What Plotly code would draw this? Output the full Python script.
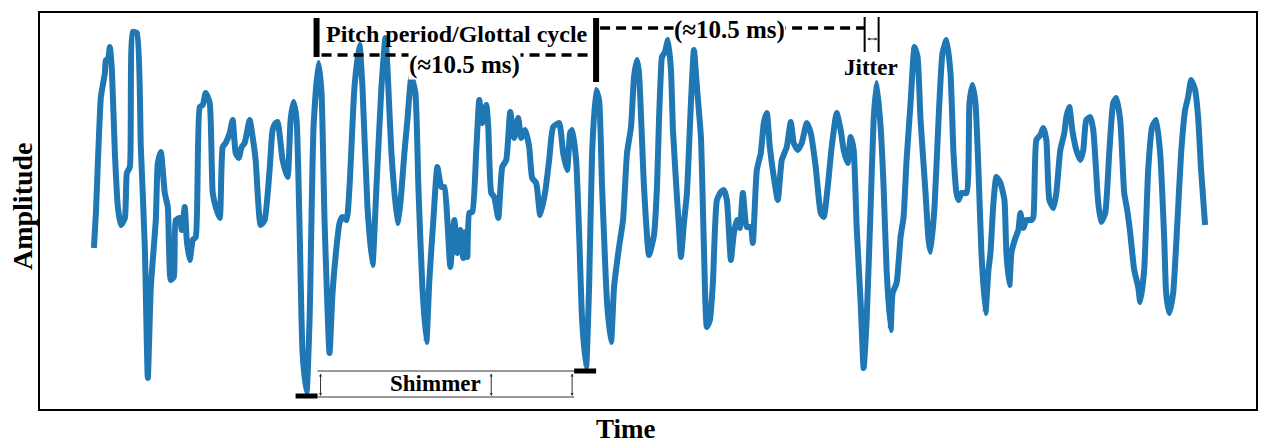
import plotly.graph_objects as go

# Time index (samples) and amplitude of the traced speech waveform
time = [94, 96, 101, 105, 106, 108, 110, 112, 115, 118, 121, 125, 127, 130, 133, 137, 141, 145, 148, 151,
        156, 158, 161, 165, 168, 171, 174, 176, 180, 182, 185, 187, 190, 193, 196, 200, 203, 206, 210, 213,
        216, 220, 223, 226, 230, 233, 236, 239, 242, 245, 250, 253, 256, 261, 265, 270, 273, 276, 278, 283,
        288, 291, 294, 297, 300, 303, 307, 310, 314, 319, 322, 325, 330, 333, 337, 340, 343, 347, 350, 355,
        360, 363, 368, 373, 377, 382, 386, 388, 392, 398, 401, 405, 408, 412, 416, 419, 423, 427, 430, 434,
        438, 442, 445, 448, 451, 455, 458, 461, 464, 466, 468, 470, 473, 477, 480, 483, 487, 489, 492, 495,
        499, 503, 507, 511, 515, 519, 522, 526, 530, 533, 537, 541, 546, 550, 554, 560, 564, 568, 571, 573,
        577, 580, 583, 587, 590, 593, 597, 600, 603, 608, 612, 615, 620, 624, 628, 632, 635, 638, 640, 645,
        650, 655, 658, 660, 662, 663, 666, 669, 672, 674, 678, 680, 682, 685, 688, 692, 695, 698, 702, 705,
        708, 711, 714, 718, 722, 725, 728, 732, 735, 738, 741, 744, 748, 752, 754, 758, 762, 765, 768, 771,
        775, 779, 783, 788, 792, 795, 799, 803, 808, 812, 817, 822, 825, 829, 833, 838, 842, 845, 849, 852,
        855, 858, 862, 865, 868, 872, 875, 878, 882, 885, 888, 892, 894, 898, 902, 905, 908, 912, 916, 919,
        922, 927, 930, 932, 936, 940, 944, 948, 952, 955, 958, 960, 963, 968, 971, 974, 977, 980, 983, 987,
        990, 992, 995, 998, 1002, 1006, 1008, 1011, 1013, 1017, 1020, 1022, 1025, 1028, 1033, 1035, 1038, 1042, 1045, 1048,
        1051, 1055, 1058, 1062, 1066, 1068, 1071, 1074, 1078, 1082, 1085, 1088, 1092, 1095, 1100, 1103, 1107, 1111, 1115, 1118,
        1122, 1126, 1129, 1132, 1136, 1140, 1142, 1146, 1150, 1154, 1158, 1162, 1166, 1168, 1171, 1175, 1179, 1183, 1187, 1190,
        1193, 1197, 1200, 1203, 1207]
amplitude = [-28, 7, 123, 147, 160, 160, 173, 150, 67, 13, -5, 2, 47, 53, 188, 187, 73, -27, -158, -67,
             0, 57, 68, 27, 13, -60, -57, 0, 2, -10, 13, -20, -40, -20, -17, 113, 115, 127, 117, 27,
             13, 2, 73, 77, 87, 100, 67, 62, 73, 77, 100, 83, 60, -5, 0, 50, 90, 97, 98, 60,
             43, 100, 118, 100, -7, -133, -172, -100, 93, 157, 127, 0, -133, -73, -27, -3, 3, 0, 33, 133,
             175, 133, 13, -45, 33, 133, 182, 153, 67, -3, 17, 67, 100, 143, 127, 33, -67, -122, -60, 0,
             53, 33, 33, 0, -47, 0, -33, -10, -38, -12, -37, 7, 8, 70, 120, 97, 115, 93, 27, 23,
             2, 53, 60, 108, 82, 102, 82, 90, 73, 42, 37, 5, 28, 60, 93, 97, 67, 50, 87, 90,
             60, -13, -100, -147, -67, 67, 130, 120, 33, -83, -122, -67, -27, 0, 67, 93, 143, 160, 147, 33,
             -35, -15, 33, 100, 150, 163, 168, 180, 150, 90, 23, -7, -37, -3, 27, 117, 170, 133, 83, -27,
             -107, -100, -63, 20, 28, 30, 20, -40, -13, 0, -8, 27, -7, -7, -23, 50, 67, 97, 107, 73,
             43, 20, 60, 73, 98, 77, 70, 77, 97, 87, 53, 7, 3, 33, 73, 107, 90, 70, 57, 83,
             70, -7, -83, -148, -100, 13, 100, 137, 93, 33, -50, -110, -73, -63, -17, 3, 60, 117, 173, 163,
             100, 27, -20, -32, 13, 100, 167, 180, 147, 67, 27, 20, 27, 27, 117, 135, 117, 50, -33, -93,
             -50, -33, 17, 43, 37, 20, -33, -65, -33, -18, -10, 7, -8, 0, 0, 3, 80, 85, 92, 80,
             20, 12, 27, 70, 87, 103, 113, 90, 70, 60, 70, 100, 103, 90, 17, -2, 7, 67, 117, 122,
             100, 27, 10, -13, -50, -67, -82, -50, 50, 93, 100, 67, -17, -73, -93, -73, -7, 67, 110, 123,
             140, 130, 103, 50, -5]

# Annotation labels
pitch_label = "Pitch period/Glottal cycle"
period_label = "(\u224810.5 ms)"
jitter_label = "Jitter"
shimmer_label = "Shimmer"
x_title = "Time"
y_title = "Amplitude"

SERIF = "Liberation Serif, Times New Roman, serif"
BLACK = "#000000"

fig = go.Figure()
fig.add_trace(go.Scatter(
    x=time, y=amplitude, mode="lines",
    line=dict(color="#1f77b4", width=6, shape="spline", smoothing=0.5),
    hoverinfo="skip", showlegend=False))

shapes = []
def seg(x0, y0, x1, y1, width=1, dash=None, color=BLACK):
    d = dict(type="line", xref="x", yref="y", x0=x0, y0=y0, x1=x1, y1=y1,
             line=dict(color=color, width=width))
    if dash:
        d["line"]["dash"] = dash
    shapes.append(d)

# pitch-period markers
seg(317, 202, 317, 163, width=6)
seg(322, 165, 594, 165, width=3.5, dash="10px,6px")
seg(597, 202, 597, 138, width=6)
seg(601, 192, 866, 192, width=3.5, dash="10px,6px")
# jitter markers
seg(866, 203, 866, 168, width=2)
seg(880, 203, 880, 168, width=2)
# shimmer markers
seg(296, -176, 318, -176, width=5)
seg(575, -151, 597, -151, width=5)
seg(318, -151, 575, -151, width=1, color="#333333")
seg(318, -177, 575, -177, width=1, color="#333333")

annotations = []
def text(x, y, s, size=23, bg=None):
    a = dict(x=x, y=y, xref="x", yref="y", text="<b>%s</b>" % s, showarrow=False,
             font=dict(family=SERIF, size=size, color=BLACK), xanchor="center", yanchor="middle")
    if bg:
        a["bgcolor"] = bg
        a["borderpad"] = 0
    annotations.append(a)

def darrow(x0, y0, x1, y1):
    annotations.append(dict(x=x1, y=y1, ax=x0, ay=y0, xref="x", yref="y", axref="x", ayref="y",
                            text="", showarrow=True, arrowhead=2, startarrowhead=2,
                            arrowside="end+start", arrowsize=0.6, startarrowsize=0.6,
                            arrowwidth=1, arrowcolor="#333333"))

text(458, 186, pitch_label, size=24)
text(465, 155, period_label, size=25, bg="white")
text(731, 190, period_label, size=25, bg="white")
text(872, 153, jitter_label, size=23)
text(436, -163, shimmer_label, size=23)
darrow(867, 181, 879, 181)
darrow(321, -152, 321, -176)
darrow(492, -152, 492, -176)
darrow(573, -152, 573, -176)

# axis titles (positions in figure pixels converted to plot-area fractions)
L, T, PW, PH = 40, 13, 1218, 396
def paper(px, py):
    return (px - L) / PW, (T + PH - py) / PH

ax_, ay_ = paper(22, 206)
annotations.append(dict(x=ax_, y=ay_, xref="paper", yref="paper", text="<b>%s</b>" % y_title,
                        showarrow=False, textangle=-90, xanchor="center", yanchor="middle",
                        font=dict(family=SERIF, size=28, color=BLACK)))
tx_, ty_ = paper(627, 429)
annotations.append(dict(x=tx_, y=ty_, xref="paper", yref="paper", text="<b>%s</b>" % x_title,
                        showarrow=False, xanchor="center", yanchor="middle",
                        font=dict(family=SERIF, size=27, color=BLACK)))

fig.update_layout(
    width=1261, height=444,
    margin=dict(l=L, r=1261 - L - PW, t=T, b=444 - T - PH),
    paper_bgcolor="white", plot_bgcolor="white",
    xaxis=dict(range=[40, 1258], showgrid=False, zeroline=False, showticklabels=False,
               ticks="", showline=True, mirror=True, linecolor=BLACK, linewidth=2, fixedrange=True),
    yaxis=dict(range=[-189, 207], showgrid=False, zeroline=False, showticklabels=False,
               ticks="", showline=True, mirror=True, linecolor=BLACK, linewidth=2, fixedrange=True),
    shapes=shapes, annotations=annotations, showlegend=False,
)

fig.write_html("out.html", config={"displayModeBar": False},
               post_script="document.body.style.margin='0';document.body.style.overflow='hidden';")
